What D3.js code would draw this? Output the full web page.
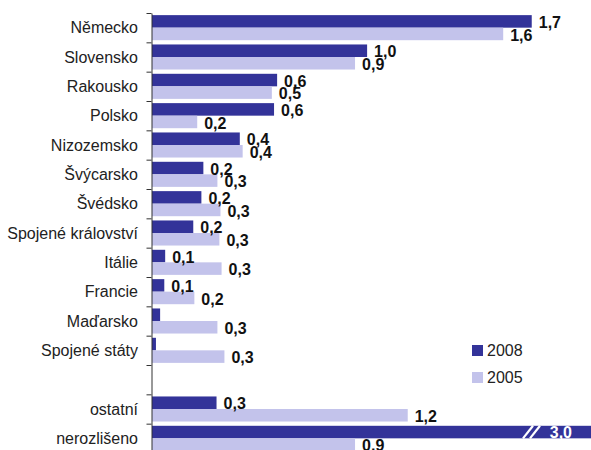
<!DOCTYPE html>
<html>
<head>
<meta charset="utf-8">
<script src="https://cdn.jsdelivr.net/npm/d3@7/dist/d3.min.js"></script>
<style>
  html, body { margin: 0; padding: 0; background: #fff; }
  svg { display: block; font-family: "Liberation Sans", Arial, sans-serif; }
</style>
</head>
<body>
<svg id="chart" width="591" height="450"></svg>
<script>
// Countries (one empty row separates the summary rows)
const categories = ["Německo", "Slovensko", "Rakousko", "Polsko", "Nizozemsko", "Švýcarsko", "Švédsko",
  "Spojené království", "Itálie", "Francie", "Maďarsko", "Spojené státy", "", "ostatní", "nerozlišeno"];
const series = ["2008", "2005"];
const values2008 = [1.73, 0.98, 0.57, 0.556, 0.40, 0.234, 0.225, 0.188, 0.06, 0.056, 0.037, 0.018, null, 0.294, 3.0];
const values2005 = [1.60, 0.925, 0.546, 0.206, 0.413, 0.298, 0.312, 0.307, 0.317, 0.193, 0.298, 0.33, null, 1.165, 0.925];
const xMaxValue = 2.0;

const colors = { "2008": "#333399", "2005": "#c3c3eb" };
const fmt = v => d3.format(".1f")(v).replace(".", ",");

const svg = d3.select("#chart");
const width = 591;

const plotTop = 13, plotBottom = 453, plotLeft = 151.5;

const x = d3.scaleLinear().domain([0, xMaxValue]).range([plotLeft + 0.5, width]);
const y = d3.scaleBand().domain(d3.range(categories.length)).range([plotTop, plotBottom]).paddingInner(0).paddingOuter(0);
const ySub = d3.scaleBand().domain(series).range([0, y.bandwidth()]).paddingInner(0).paddingOuter(0.17);
const yTicks = d3.scaleLinear().domain([0, categories.length]).range([plotTop, plotBottom]);

const rows = categories.map((c, i) => ({
  i, name: c,
  bars: [
    { s: "2008", v: values2008[i] },
    { s: "2005", v: values2005[i] }
  ].filter(b => b.v !== null)
}));

// bars
const rowG = svg.append("g").selectAll("g").data(rows).join("g")
  .attr("transform", d => `translate(0,${y(d.i)})`);

rowG.selectAll("rect").data(d => d.bars).join("rect")
  .attr("x", x(0))
  .attr("y", b => ySub(b.s))
  .attr("width", b => x(Math.min(b.v, xMaxValue)) - x(0))
  .attr("height", ySub.bandwidth())
  .attr("fill", b => colors[b.s]);

// value labels (regular bars)
rowG.selectAll("text.val").data(d => d.bars.filter(b => b.v <= xMaxValue && fmt(b.v) !== "0,0")).join("text")
  .attr("class", "val")
  .attr("x", b => x(b.v) + 7)
  .attr("y", b => ySub(b.s) + ySub.bandwidth() / 2 + 1)
  .attr("dy", "0.36em")
  .attr("font-size", 16)
  .attr("font-weight", "bold")
  .attr("fill", "#111")
  .text(b => fmt(b.v));

// bars beyond the scale: break marks and value inside the bar
const broken = rowG.selectAll("g.broken").data(d => d.bars.filter(b => b.v > xMaxValue)).join("g")
  .attr("class", "broken");
broken.each(function (b) {
  const g = d3.select(this);
  const y0 = ySub(b.s), y1 = y0 + ySub.bandwidth();
  const xe = x(xMaxValue);
  [xe - 68, xe - 61].forEach(bx => {
    g.append("line")
      .attr("x1", bx).attr("y1", y1)
      .attr("x2", bx + 10).attr("y2", y0)
      .attr("stroke", "#fff").attr("stroke-width", 2.2);
  });
  g.append("text")
    .attr("x", xe - 19)
    .attr("y", y0 + ySub.bandwidth() / 2)
    .attr("dy", "0.36em")
    .attr("text-anchor", "end")
    .attr("font-size", 16)
    .attr("font-weight", "bold")
    .attr("fill", "#fff")
    .text(fmt(b.v));
});

// category axis with ticks between rows
const axisG = svg.append("g")
  .attr("transform", `translate(${plotLeft},0)`)
  .call(d3.axisLeft(yTicks).tickValues(d3.range(categories.length)).tickSize(5).tickSizeOuter(0).tickFormat(""));
axisG.selectAll("path, line").attr("stroke", "#333");

// category labels
svg.append("g").selectAll("text").data(rows).join("text")
  .attr("x", 138)
  .attr("y", d => y(d.i) + y.bandwidth() / 2)
  .attr("dy", "0.36em")
  .attr("text-anchor", "end")
  .attr("font-size", 16)
  .attr("fill", "#222")
  .text(d => d.name);

// legend
const legend = svg.append("g").attr("transform", "translate(472,345)");
const li = legend.selectAll("g").data(series).join("g")
  .attr("transform", (d, i) => `translate(0,${i * 27})`);
li.append("rect").attr("width", 11).attr("height", 11).attr("fill", d => colors[d]);
li.append("text").attr("x", 15).attr("y", 5.5).attr("dy", "0.36em")
  .attr("font-size", 16).attr("fill", "#222").text(d => d);
</script>
</body>
</html>
